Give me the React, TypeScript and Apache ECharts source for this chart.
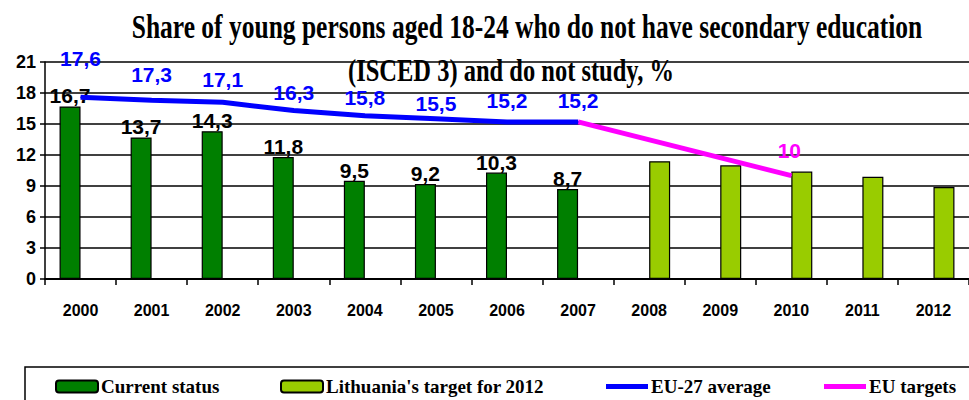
import React, { useEffect, useRef } from "react";
import * as echarts from "echarts";

const years = ["2000", "2001", "2002", "2003", "2004", "2005", "2006", "2007", "2008", "2009", "2010", "2011", "2012"];
const currentStatus = [16.7, 13.7, 14.3, 11.8, 9.5, 9.2, 10.3, 8.7, null, null, null, null, null];
const lithuaniaTarget = [null, null, null, null, null, null, null, null, 11.4, 11.0, 10.4, 9.9, 8.9];
const eu27Average = [17.6, 17.3, 17.1, 16.3, 15.8, 15.5, 15.2, 15.2, null, null, null, null, null];
const euTargets = [null, null, null, null, null, null, null, 15.2, null, null, 10, null, null];
const yTicks = { min: 0, max: 21, interval: 3 };

// label lift (style) for the EU-27 labels, px above point
const euLabelLift = [24, 11, 8, 3, 3, 0, 6, 6];

const fmt = (v: number) => (Number.isInteger(v) ? String(v) : v.toFixed(1).replace(".", ","));

export default function App() {
  const ref = useRef<HTMLDivElement>(null);
  useEffect(() => {
    const chart = echarts.init(ref.current!, null, { renderer: "svg" });
    const sans = "Liberation Sans, Arial, sans-serif";
    const serif = "Liberation Serif, Times New Roman, serif";
    const legendBase = {
      top: 377,
      padding: 0,
      itemWidth: 42,
      itemHeight: 12,
      itemGap: 5,
      textStyle: { fontFamily: serif, fontWeight: "bold", fontSize: 19, color: "#000", padding: [0, 0, 0, -2] },
      selectedMode: false,
    };
    const blueLabel = {
      show: true,
      position: "top",
      formatter: (p: any) => fmt(p.value),
      fontFamily: sans,
      fontWeight: "bold",
      fontSize: 21,
      color: "#0000ff",
    };
    chart.setOption({
      animation: false,
      grid: { left: 45, right: -12, top: 62, height: 217, containLabel: false },
      graphic: [
        {
          type: "text",
          x: 527,
          y: 27,
          scaleY: 1.3,
          style: {
            text: "Share of young persons aged 18-24 who do not have secondary education",
            textAlign: "center",
            textVerticalAlign: "middle",
            font: `bold 25.5px ${serif}`,
            fill: "#000",
          },
        },
        {
          type: "text",
          x: 511,
          y: 70,
          z: 10,
          scaleY: 1.3,
          style: {
            text: "(ISCED 3) and do not study, %",
            textAlign: "center",
            textVerticalAlign: "middle",
            font: `bold 24.5px ${serif}`,
            fill: "#000",
          },
        },
        {
          type: "rect",
          shape: { x: 25, y: 367, width: 980, height: 60 },
          style: { fill: "none", stroke: "#000", lineWidth: 1.5 },
        },
      ],
      legend: [
        { ...legendBase, left: 55, data: ["Current status"] },
        { ...legendBase, left: 280, data: ["Lithuania's target for 2012"] },
        { ...legendBase, left: 606, itemHeight: 5, data: [{ name: "EU-27 average", icon: "rect" }] },
        { ...legendBase, left: 824, itemHeight: 5, data: [{ name: "EU targets", icon: "rect" }] },
      ],
      xAxis: {
        type: "category",
        data: years,
        boundaryGap: true,
        axisLine: { lineStyle: { color: "#000", width: 2 } },
        axisTick: { show: true, length: 6, lineStyle: { color: "#000", width: 1.5 } },
        axisLabel: { fontFamily: sans, fontWeight: "bold", fontSize: 16, color: "#000", margin: 23 },
      },
      yAxis: {
        type: "value",
        min: yTicks.min,
        max: yTicks.max,
        interval: yTicks.interval,
        axisLine: { show: true, lineStyle: { color: "#000", width: 1.5 } },
        axisTick: { show: true, length: 5, lineStyle: { color: "#000", width: 1.5 } },
        axisLabel: { fontFamily: sans, fontWeight: "bold", fontSize: 18, color: "#000", margin: 9 },
        splitLine: { lineStyle: { color: "#000", width: 1.5 } },
      },
      series: [
        {
          name: "Current status",
          type: "bar",
          data: currentStatus,
          barWidth: 21,
          barGap: "0%",
          itemStyle: { color: "#007f00", borderColor: "#000", borderWidth: 1.2 },
          label: {
            show: true,
            position: "top",
            distance: 0,
            formatter: (p: any) => fmt(p.value),
            fontFamily: sans,
            fontWeight: "bold",
            fontSize: 21,
            color: "#000",
          },
          z: 2,
        },
        {
          name: "Lithuania's target for 2012",
          type: "bar",
          data: lithuaniaTarget,
          barWidth: 21,
          barGap: "0%",
          itemStyle: { color: "#99cc00", borderColor: "#000", borderWidth: 1.2 },
          z: 2,
        },
        {
          name: "EU-27 average",
          type: "line",
          data: eu27Average.map((v, i) => ({
            value: v,
            label: { ...blueLabel, distance: 4 + (euLabelLift[i] ?? 0) },
          })),
          symbol: "circle",
          symbolSize: 1,
          showSymbol: true,
          lineStyle: { color: "#0000ff", width: 5 },
          itemStyle: { color: "#0000ff" },
          label: blueLabel,
          z: 3,
        },
        {
          name: "EU targets",
          type: "line",
          data: euTargets,
          connectNulls: true,
          symbol: "circle",
          symbolSize: 1,
          showSymbol: true,
          lineStyle: { color: "#ff00ff", width: 5 },
          itemStyle: { color: "#ff00ff" },
          label: {
            show: true,
            position: "top",
            distance: 8,
            offset: [-2, -6],
            formatter: (p: any) => (p.dataIndex === euTargets.length - 3 ? fmt(p.value) : ""),
            fontFamily: sans,
            fontWeight: "bold",
            fontSize: 21,
            color: "#ff00ff",
          },
          z: 2,
        },
      ],
    });
    return () => chart.dispose();
  }, []);
  return <div ref={ref} style={{ position: "absolute", left: 0, top: 0, width: 969, height: 400 }} />;
}
